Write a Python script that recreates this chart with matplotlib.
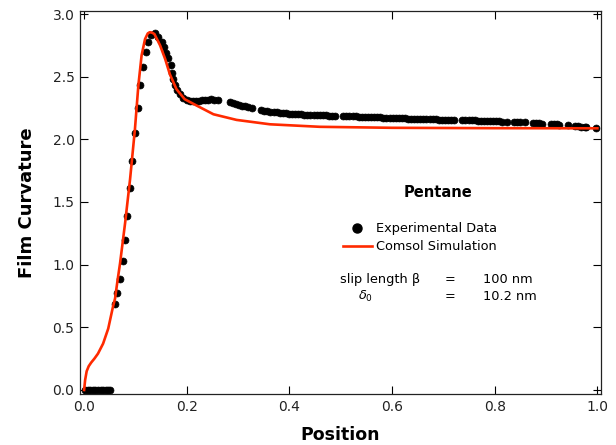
import matplotlib
matplotlib.use("Agg")
import matplotlib.pyplot as plt
import numpy as np

plt.rcParams['font.family'] = ['DejaVu Sans']
plt.rcParams['mathtext.fontset'] = 'dejavusans'

exp_x = [0.002, 0.007, 0.012, 0.017, 0.022, 0.027, 0.032, 0.037, 0.042, 0.047, 0.051,
         0.060, 0.065, 0.070, 0.075, 0.080, 0.0845, 0.0895, 0.094, 0.0998, 0.1045, 0.1096,
         0.1148, 0.120, 0.1245, 0.130, 0.138, 0.1446, 0.151, 0.1556, 0.1595, 0.164,
         0.1686, 0.171, 0.174, 0.1776, 0.1815, 0.187, 0.193, 0.200,
         0.206, 0.212, 0.218, 0.224, 0.230, 0.236, 0.242, 0.248, 0.254, 0.260,
         0.284, 0.290, 0.296, 0.302, 0.308, 0.314, 0.320, 0.327,
         0.345, 0.351, 0.357, 0.363, 0.369, 0.375, 0.381, 0.387, 0.393, 0.399,
         0.405, 0.411, 0.417, 0.423, 0.429, 0.435, 0.441, 0.447, 0.453, 0.459,
         0.465, 0.471, 0.477, 0.483, 0.489,
         0.505, 0.511, 0.517, 0.523, 0.529, 0.535, 0.541, 0.547, 0.553, 0.559,
         0.565, 0.571, 0.577, 0.583, 0.589, 0.595, 0.601, 0.607, 0.613, 0.619,
         0.625, 0.631, 0.637, 0.643, 0.649, 0.655, 0.661, 0.667, 0.673, 0.679,
         0.685, 0.691, 0.697, 0.703, 0.709, 0.715, 0.721,
         0.737, 0.743, 0.749, 0.755, 0.761, 0.767, 0.773, 0.779, 0.785, 0.791,
         0.797, 0.803, 0.809, 0.815, 0.823,
         0.838, 0.844, 0.850, 0.858,
         0.875, 0.881, 0.887, 0.893,
         0.909, 0.915, 0.921, 0.926,
         0.942,
         0.957, 0.963, 0.969, 0.975, 0.978,
         0.997]
exp_y = [0.0, 0.0, 0.0, 0.0, 0.0, 0.0, 0.0, 0.0, 0.0, 0.0, 0.0,
         0.69, 0.77, 0.885, 1.03, 1.20, 1.39, 1.61, 1.83, 2.05, 2.25, 2.43,
         2.58, 2.70, 2.78, 2.83, 2.85, 2.82, 2.78, 2.74, 2.69, 2.645,
         2.59, 2.53, 2.48, 2.43, 2.39, 2.36, 2.33, 2.31,
         2.302, 2.303, 2.306, 2.309, 2.312, 2.315, 2.317, 2.318, 2.317, 2.314,
         2.295, 2.288, 2.281, 2.274, 2.268, 2.262, 2.256, 2.250,
         2.235, 2.230, 2.226, 2.222, 2.218, 2.215, 2.212, 2.209, 2.207, 2.205,
         2.203, 2.201, 2.200, 2.199, 2.198, 2.197, 2.196, 2.195, 2.194, 2.193,
         2.192, 2.191, 2.190, 2.189, 2.188,
         2.187, 2.186, 2.185, 2.184, 2.183, 2.182, 2.181, 2.180, 2.179, 2.178,
         2.177, 2.176, 2.175, 2.174, 2.173, 2.172, 2.171, 2.170, 2.169, 2.168,
         2.167, 2.166, 2.165, 2.164, 2.163, 2.162, 2.161, 2.160, 2.160, 2.159,
         2.159, 2.158, 2.158, 2.157, 2.157, 2.156, 2.156,
         2.155, 2.154, 2.153, 2.152, 2.151, 2.150, 2.149, 2.148, 2.147, 2.146,
         2.145, 2.144, 2.143, 2.142, 2.141,
         2.137, 2.136, 2.136, 2.135,
         2.129, 2.128, 2.127, 2.126,
         2.121, 2.120, 2.119, 2.118,
         2.112,
         2.105, 2.103, 2.102, 2.100, 2.099,
         2.090]

# Comsol simulation curve
sim_x = [0.0, 0.002, 0.005, 0.009, 0.014, 0.020, 0.027, 0.037, 0.047, 0.056,
         0.0603, 0.065, 0.070, 0.0798, 0.0895, 0.099, 0.1057, 0.112, 0.1187,
         0.124, 0.128, 0.133, 0.137, 0.148, 0.158, 0.167, 0.180, 0.196, 0.219,
         0.252, 0.297, 0.362, 0.459, 0.60, 0.80, 1.0]
sim_y = [0.0, 0.08, 0.15, 0.19, 0.22, 0.25, 0.29, 0.37, 0.49, 0.66,
         0.73, 0.87, 1.01, 1.33, 1.68, 2.08, 2.43, 2.67, 2.80,
         2.845, 2.855, 2.85, 2.84, 2.75, 2.64, 2.52, 2.40, 2.32, 2.27,
         2.20, 2.155, 2.12, 2.10, 2.092, 2.089, 2.088]

xticks = [0.0, 0.2, 0.4, 0.6, 0.8, 1.0]
yticks = [0.0, 0.5, 1.0, 1.5, 2.0, 2.5, 3.0]

RED = '#ff2a00'
narrow = ['Liberation Sans Narrow', 'DejaVu Sans']

fig = plt.figure(figsize=(6.16, 4.45), dpi=100)
ax = fig.add_axes([80/616, 1-394/445, 521/616, 383/445])

ax.plot(sim_x, sim_y, color=RED, lw=1.9, zorder=3)
ax.plot(exp_x, exp_y, 'o', color='black', ms=5.0, mec='black', mew=0.5, zorder=2)

ax.set_xlim(-0.008, 1.007)
ax.set_ylim(-0.032, 3.024)
ax.set_xticks(xticks)
ax.set_yticks(yticks)
ax.set_xticklabels([f"{t:.1f}" for t in xticks])
ax.set_yticklabels([f"{t:.1f}" for t in yticks])
ax.tick_params(direction='in', length=5.8, width=0.8, top=True, right=True,
               labelsize=10, labelcolor='#222222', pad=4)
for s in ax.spines.values():
    s.set_linewidth(0.9)
    s.set_color('#222222')

ax.set_xlabel('Position', fontsize=12.5, fontweight='bold', family=narrow, labelpad=9)
ax.set_ylabel('Film Curvature', fontsize=13, fontweight='bold', family=narrow, labelpad=12)

T = ax.transAxes
ax.text(0.687, 0.525, 'Pentane', transform=T, ha='center', va='center',
        fontsize=10.5, fontweight='bold', family=narrow)
ax.plot([0.532], [0.433], 'o', color='black', ms=6.5, transform=T, clip_on=False)
ax.text(0.568, 0.433, 'Experimental Data', transform=T, ha='left', va='center', fontsize=9.3)
ax.plot([0.505, 0.560], [0.386, 0.386], color=RED, lw=1.9, transform=T, clip_on=False)
ax.text(0.568, 0.386, 'Comsol Simulation', transform=T, ha='left', va='center', fontsize=9.3)
ax.text(0.500, 0.298, 'slip length β', transform=T, ha='left', va='center', fontsize=9.3)
ax.text(0.711, 0.298, '=', transform=T, ha='center', va='center', fontsize=9.3)
ax.text(0.773, 0.298, '100 nm', transform=T, ha='left', va='center', fontsize=9.3)
ax.text(0.533, 0.254, r'$\delta_0$', transform=T, ha='left', va='center', fontsize=9.3)
ax.text(0.711, 0.254, '=', transform=T, ha='center', va='center', fontsize=9.3)
ax.text(0.773, 0.254, '10.2 nm', transform=T, ha='left', va='center', fontsize=9.3)

fig.savefig('out.png', dpi=100)
